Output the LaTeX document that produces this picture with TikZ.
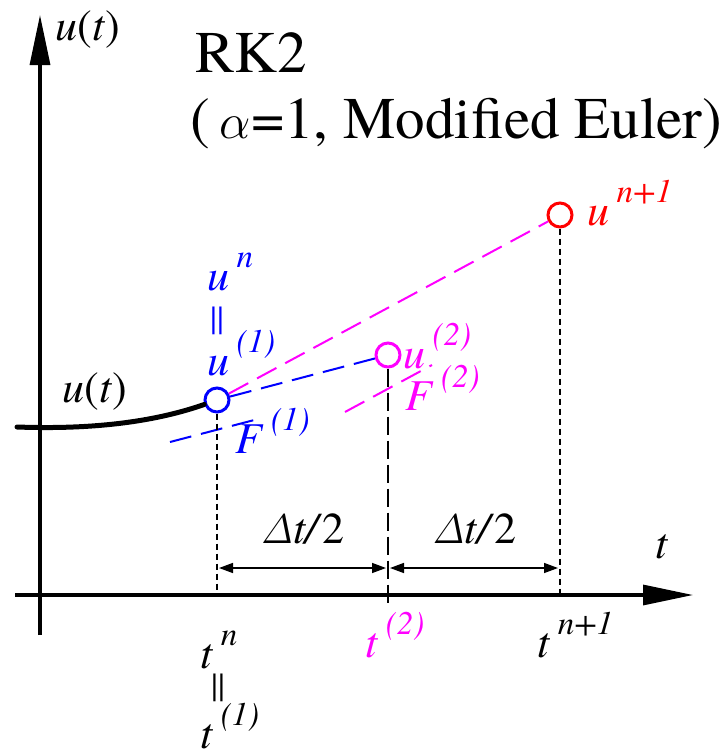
\documentclass[tikz,border=0pt]{standalone}
\usepackage[no-math]{fontspec}
\IfFontExistsTF{texgyretermes-regular.otf}
  {\setmainfont{texgyretermes}[Extension=.otf,UprightFont=*-regular,ItalicFont=*-italic,BoldFont=*-bold,BoldItalicFont=*-bolditalic]}
  {\setmainfont{Liberation Serif}}
\usetikzlibrary{positioning,arrows.meta}
\definecolor{cstep}{RGB}{0,0,255}
\definecolor{cmid}{RGB}{255,0,255}
\definecolor{cnext}{RGB}{255,0,0}
% raised index, as in u^n
\newcommand{\hi}[1]{\,\raisebox{0.52em}{\fontsize{16.5}{17}\selectfont\textit{#1}}}

\begin{document}
\begin{tikzpicture}[
  x=0.5pt,y=-0.5pt,
  lbl/.style={inner sep=0pt,anchor=base west,font=\rmfamily\fontsize{22}{24}\selectfont},
  ttl/.style={inner sep=0pt,anchor=base west,font=\rmfamily\fontsize{29.5}{32}\selectfont},
  eqs/.style={inner sep=0pt,font=\rmfamily\fontsize{17}{17}\selectfont},
  pt/.style={circle,draw=#1,line width=1.5pt,fill=white,inner sep=0pt,minimum size=12pt},
  axis/.style={line width=1.6pt,-{Triangle[length=25pt,width=10pt]}},
  sol/.style={line width=2.5pt,line cap=round},
  slope/.style={dash pattern=on 11pt off 5pt,line width=1pt},
  guide/.style={dash pattern=on 3pt off 2pt,line width=0.8pt},
  midline/.style={dash pattern=on 9pt off 3pt,line width=0.8pt},
  dim/.style={{Triangle[length=7pt,width=5pt]}-{Triangle[length=7pt,width=5pt]},line width=0.7pt,shorten <=1pt,shorten >=1pt},
]
\useasboundingbox (0,0) rectangle (726,755);

% axes
\coordinate (ybot) at (40,635);
\coordinate (ytop) at (40,15);
\coordinate (xleft) at (15,595);
\coordinate (xright) at (693,595);
\draw[axis] (ybot) -- (ytop);
\draw[axis] (xleft) -- (xright);
\node[lbl] (uax) at (55,40) {\textit{u}(\textit{t})};
\node[lbl] (tax) at (655,558) {\textit{t}};

% title
\node[ttl] (title1) at (195,72) {RK2};
\node[ttl] (title2) at (190,138) {(\,$\alpha$=1, Modified Euler)};

% points
\node[pt=cstep] (p1) at (217,400) {};
\node[pt=cmid] (p2) at (388,355) {};
\node[pt=cnext] (p3) at (560,215) {};

% foot points on the t axis
\coordinate (t1) at (217,595);
\coordinate (t2) at (388,605);
\coordinate (t3) at (560,595);

% solution curve
\coordinate (c0) at (17,427);
\draw[sol] (c0) .. controls (100,430) and (160,420) .. (p1);
\node[lbl] (ucurve) at (62,402) {\textit{u}(\textit{t})};

% slopes
\coordinate (f1a) at (170,442);
\coordinate (f1b) at (262,418);
\coordinate (f2a) at (345,412);
\coordinate (f2b) at (432,365);
\draw[slope,cmid] (p1) -- (p3);
\draw[slope,cstep] (p1) -- (p2);
\draw[slope,cstep] (f1a) -- (f1b);
\draw[slope,cmid] (f2a) -- (f2b);

% drop lines
\draw[guide] (p1) -- (t1);
\draw[midline] (p2) -- (t2);
\draw[guide] (p3) -- (t3);

% half steps
\coordinate (d1) at (217,568);
\coordinate (d2) at (388,568);
\coordinate (d3) at (560,568);
\draw[dim] (d1) -- node[midway,anchor=base,inner sep=0pt,yshift=12.5pt,font=\rmfamily\fontsize{22}{24}\selectfont]{$\mathit{\Delta}$\textit{t/}2} (d2);
\draw[dim] (d2) -- node[midway,anchor=base,inner sep=0pt,yshift=12.5pt,font=\rmfamily\fontsize{22}{24}\selectfont]{$\mathit{\Delta}$\textit{t/}2} (d3);

% point labels
\node[lbl,text=cstep] (un) at (207,290) {\textit{u}\hi{n}};
\node[eqs,text=cstep] (equ) at (217,321) {||};
\node[lbl,text=cstep] (u1) at (207,375) {\textit{u}\hi{(1)}};
\node[lbl,text=cstep] (F1) at (235,453) {\textit{F}\hi{(1)}};
\node[lbl,text=cmid] (u2) at (403,368) {\textit{u}\hi{(2)}};
\node[lbl,text=cmid] (F2) at (405,410) {\textit{F}\hi{(2)}};
\node[lbl,text=cnext] (unext) at (587,225) {\textit{u}\hi{n+1}};

% time labels
\node[lbl] (tn) at (200,668) {\textit{t}\hi{n}};
\node[eqs] (eqt) at (218,688) {||};
\node[lbl] (tone) at (200,748) {\textit{t}\hi{(1)}};
\node[lbl,text=cmid] (ttwo) at (365,657) {\textit{t}\hi{(2)}};
\node[lbl] (tnext) at (537,657) {\textit{t}\hi{n+1}};
\end{tikzpicture}
\end{document}
